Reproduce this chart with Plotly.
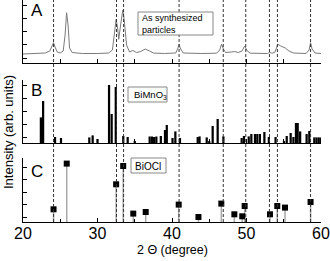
import plotly.graph_objects as go

# ---------------- data ----------------
# Panel A: measured pattern of the as-synthesized particles (2-theta, intensity, arb.)
a_x = [20.0, 22.0, 23.0, 23.6, 23.9, 24.1, 24.3, 24.6, 25.0, 25.4, 25.65, 25.85, 26.05, 26.25,
       26.6, 28.0, 30.0, 31.5, 32.0, 32.3, 32.5, 32.7, 32.85, 33.1, 33.4, 33.6, 33.9, 34.3,
       34.7, 34.9, 35.2, 35.8, 36.4, 37.0, 37.5, 39.0, 40.5, 40.8, 40.95, 41.1, 41.5, 44.0,
       46.0, 46.4, 46.65, 46.9, 47.2, 48.0, 48.4, 48.9, 49.4, 49.75, 50.1, 50.5, 52.8, 53.1,
       53.4, 53.8, 54.2, 54.6, 55.2, 55.7, 56.3, 58.0, 58.4, 58.6, 58.8, 59.2, 60.0]
a_y = [9.0, 9.5, 10.0, 12.0, 17.0, 20.3, 16.0, 11.0, 10.0, 12.0, 28.0, 50.3, 38.0, 15.0,
       10.5, 9.5, 9.5, 10.0, 13.0, 30.0, 43.7, 35.0, 23.7, 38.0, 53.0, 42.0, 18.0, 11.0,
       12.5, 12.0, 10.5, 11.5, 14.0, 12.0, 10.0, 9.5, 10.0, 15.0, 18.7, 15.0, 10.0, 9.5,
       9.8, 13.0, 18.7, 14.0, 10.5, 11.0, 11.5, 10.5, 12.0, 17.0, 12.0, 9.8, 9.5, 10.5,
       9.8, 10.5, 18.7, 17.0, 15.0, 12.0, 10.0, 9.5, 13.0, 20.3, 14.0, 10.0, 9.5]

# Panel B: BiMnO3 reference lines
b_x = [22.4, 22.7, 24.3, 25.1, 28.9, 29.35, 30.0, 31.55, 31.9, 32.45, 33.46, 34.05, 35.0,
       37.0, 37.3, 37.6, 37.9, 38.5, 39.06, 39.3, 40.07, 40.45, 41.07, 43.45, 43.7, 44.66,
       45.0, 45.46, 46.13, 46.9, 49.35, 49.66, 50.3, 50.65, 51.14, 51.45, 51.8, 52.4, 53.0,
       53.9, 55.03, 55.4, 55.93, 56.3, 56.64, 56.87, 57.2, 58.07, 58.43, 59.1, 59.4, 59.7, 60.0]
b_h = [25.6, 42.0, 6.0, 5.0, 5.6, 7.6, 4.0, 58.0, 29.0, 56.0, 7.0, 6.0, 2.0,
       6.5, 6.5, 6.0, 6.5, 7.0, 13.0, 18.0, 5.0, 11.6, 5.0, 6.0, 6.6, 5.6,
       2.0, 17.0, 24.0, 6.6, 5.0, 7.0, 6.6, 9.0, 9.0, 9.0, 9.0, 11.0, 6.0,
       6.0, 2.0, 7.0, 10.0, 6.0, 20.0, 20.0, 11.6, 9.0, 12.0, 5.6, 5.6, 5.6, 5.6]

# Panel C: BiOCl reference lines
c_x = [24.1, 25.87, 32.5, 33.45, 34.8, 36.47, 40.9, 43.55, 46.62, 48.37, 49.43, 49.75,
       53.15, 54.13, 55.17, 58.6]
c_h = [12.7, 58.4, 37.7, 56.0, 8.4, 10.0, 17.4, 5.0, 18.4, 7.7, 5.7, 16.0,
       7.7, 16.0, 14.4, 20.0]

# dashed guide lines (2-theta)
guide_x = [24.1, 32.55, 33.5, 40.95, 46.88, 49.9, 53.08, 54.15, 58.6]

x_ticks = [20, 30, 40, 50, 60]
panel_labels = ["A", "B", "C"]
box_texts = ["As synthesized<br>particles", "BiMnO<sub>3</sub>", "BiOCl"]
x_title = "2 \u0398 (degree)"
y_title = "Intensity (arb. units)"

# ---------------- layout helpers ----------------
W, H = 330, 261
L, R, T, B = 23, 9, 0, 39
PW, PH = W - L - R, H - T - B
FONT = "Liberation Sans, Arial, sans-serif"


def py(px):
    return 1 - (px - T) / PH


def pxx(px):
    return (px - L) / PW


fig = go.Figure()

fig.add_trace(go.Scatter(x=a_x, y=a_y, mode="lines",
                         line=dict(color="#7a7a7a", width=1),
                         xaxis="x", yaxis="y", hoverinfo="skip"))

fig.add_trace(go.Bar(x=b_x, y=b_h, width=0.3,
                     marker=dict(color="black", line=dict(width=0)),
                     xaxis="x2", yaxis="y2", hoverinfo="skip"))

stem_x, stem_y = [], []
for xv, hv in zip(c_x, c_h):
    stem_x += [xv, xv, None]
    stem_y += [0, hv, None]
fig.add_trace(go.Scatter(x=stem_x, y=stem_y, mode="lines",
                         line=dict(color="#a8a8a8", width=1.5),
                         xaxis="x3", yaxis="y3", hoverinfo="skip"))
fig.add_trace(go.Scatter(x=c_x, y=c_h, mode="markers",
                         marker=dict(symbol="square", size=6, color="black"),
                         xaxis="x3", yaxis="y3", hoverinfo="skip"))

xcommon = dict(range=[20, 60], showline=True, linecolor="black", linewidth=1,
               ticks="inside", ticklen=4, tickcolor="black", showgrid=False,
               zeroline=False, automargin=False)
ycommon = dict(showline=True, linecolor="black", linewidth=1, ticks="inside",
               ticklen=4, tickcolor="black", showgrid=False, zeroline=False,
               showticklabels=False, automargin=False)

domA = [py(63), py(0)]
domB = [py(143), py(80)]
domC = [py(222), py(158)]

fig.update_layout(
    width=W, height=H,
    margin=dict(l=L, r=R, t=T, b=B, autoexpand=False),
    paper_bgcolor="white", plot_bgcolor="white",
    showlegend=False,
    font=dict(family=FONT, color="black"),
    xaxis=dict(domain=[0, 1], anchor="y", dtick=5, showticklabels=False, **xcommon),
    xaxis2=dict(domain=[0, 1], anchor="y2", dtick=5, showticklabels=False, **xcommon),
    xaxis3=dict(domain=[0, 1], anchor="y3", tickvals=x_ticks,
                ticktext=[str(v) for v in x_ticks], showticklabels=True,
                tickfont=dict(size=16, family=FONT),
                ticklabeloverflow="allow", ticklabelstandoff=-3,
                minor=dict(dtick=5, ticks="inside", ticklen=3, tickcolor="black"),
                **xcommon),
    yaxis=dict(domain=domA, anchor="x", range=[0, 63], tick0=5, dtick=13.2, **ycommon),
    yaxis2=dict(domain=domB, anchor="x2", range=[0, 63], tick0=6, dtick=13.0, **ycommon),
    yaxis3=dict(domain=domC, anchor="x3", range=[0, 64], tick0=5, dtick=12.5, **ycommon),
)

shapes = []
for gx in guide_x:
    shapes.append(dict(type="line", xref="x", yref="paper", x0=gx, x1=gx, y0=0, y1=1,
                       line=dict(color="#333333", width=1, dash="3px,2px"), layer="above"))

boxes = [(138, 213, 12, 35), (128, 167, 87, 102), (131, 166, 158, 173)]
for (x0, x1, y0, y1) in boxes:
    shapes.append(dict(type="rect", xref="paper", yref="paper",
                       x0=pxx(x0), x1=pxx(x1), y0=py(y1), y1=py(y0),
                       fillcolor="white", line=dict(color="#888888", width=1),
                       layer="above"))
fig.update_layout(shapes=shapes)

annotations = []
text_pos = [(140, 24, 9), (132, 94.5, 9.5), (133, 166, 10)]
for (tx, ty, fs), txt in zip(text_pos, box_texts):
    annotations.append(dict(xref="paper", yref="paper", x=pxx(tx), y=py(ty),
                            xanchor="left", yanchor="middle", align="left",
                            text=txt, showarrow=False,
                            font=dict(size=fs, family=FONT, color="black")))
label_pos = [(29, 10.5), (29, 90.5), (29, 171.5)]
for (lx, ly), lab in zip(label_pos, panel_labels):
    annotations.append(dict(xref="paper", yref="paper", x=pxx(lx), y=py(ly),
                            xanchor="left", yanchor="middle", text=lab,
                            showarrow=False,
                            font=dict(size=17, family=FONT, color="black")))
annotations.append(dict(xref="paper", yref="paper", x=0.5, y=py(250),
                        xanchor="center", yanchor="middle", text=x_title,
                        showarrow=False, font=dict(size=12.5, family=FONT)))
annotations.append(dict(xref="paper", yref="paper", x=pxx(8), y=py(132),
                        xanchor="center", yanchor="middle", text=y_title,
                        textangle=-90, showarrow=False,
                        font=dict(size=13, family=FONT)))
fig.update_layout(annotations=annotations)

fig.write_html("out.html", config={"displayModeBar": False, "staticPlot": True},
               post_script="document.body.style.margin='0';document.body.style.padding='0';")
